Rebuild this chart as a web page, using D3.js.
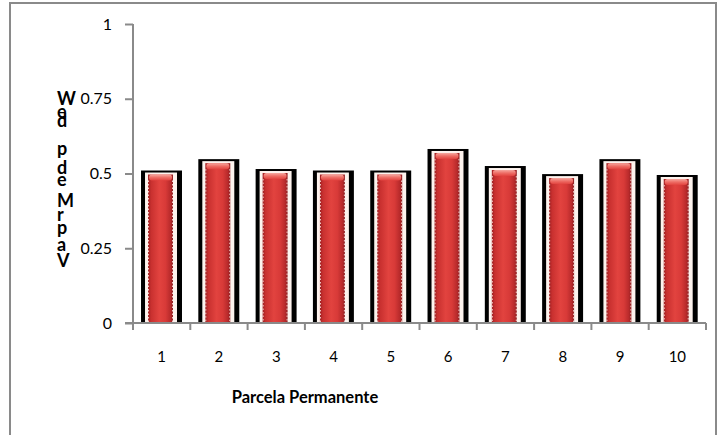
<!DOCTYPE html>
<html><head><meta charset="utf-8">
<script src="https://cdn.jsdelivr.net/npm/d3@7"></script>
<style>
html,body{margin:0;padding:0;background:#fff;}
svg{display:block;}
text{font-family:Lato,"Liberation Sans",sans-serif;fill:#000;}
</style></head>
<body>
<svg id="c" width="718" height="435"></svg>
<script>
// ---- data ----
const categories = ["1","2","3","4","5","6","7","8","9","10"];
const values = [0.51, 0.548, 0.515, 0.51, 0.51, 0.582, 0.525, 0.498, 0.548, 0.495];
const yTicks = [0, 0.25, 0.5, 0.75, 1];
const yTickLabels = ["0", "0.25", "0.5", "0.75", "1"];
const xTitle = "Parcela Permanente";
const yTitleLetters = ["W","e","d","p","d","e","M","r","p","a","V"];

// ---- layout ----
const yTitleBaselines = [105, 118, 127, 155, 174, 186, 207, 221, 234, 251, 267];
const svg = d3.select("#c");
const pLeft = 133, pRight = 706, pTop = 24, pBottom = 323;
const axisColor = "#8a8a8a";

// chart border
svg.append("path")
  .attr("d", "M10,440 L10,3 L716,3 L716,440")
  .attr("fill", "none").attr("stroke", axisColor).attr("stroke-width", 2);

const y = d3.scaleLinear().domain([0, 1]).range([pBottom, pTop]);
const x = d3.scaleBand().domain(categories).range([pLeft, pRight]).padding(0);
const bw = x.bandwidth();

// gradients
const defs = svg.append("defs");
const g1 = defs.append("linearGradient").attr("id", "red").attr("x1", "0").attr("x2", "1").attr("y1", "0").attr("y2", "0");
[["0", "#9e1f22"], ["0.12", "#c8302f"], ["0.45", "#e2433f"], ["0.7", "#d83a38"], ["0.9", "#b82a2b"], ["1", "#8f1d20"]]
  .forEach(([o, c]) => g1.append("stop").attr("offset", o).attr("stop-color", c));
const g2 = defs.append("linearGradient").attr("id", "cap").attr("x1", "0").attr("x2", "0").attr("y1", "0").attr("y2", "1");
[["0", "#f6a8a0"], ["0.5", "#ee6e66"], ["1", "#e2433f"]]
  .forEach(([o, c]) => g2.append("stop").attr("offset", o).attr("stop-color", c));

// bars
const bars = svg.append("g").selectAll("g").data(values).join("g");
const bx = (d, i) => x(categories[i]) + bw * 0.14;
const bW = bw * 0.715;
bars.append("rect").attr("x", bx).attr("y", d => y(d)).attr("width", bW)
  .attr("height", d => pBottom - y(d)).attr("fill", "#000");
bars.append("rect").attr("x", (d, i) => bx(d, i) + 4).attr("y", d => y(d) + 2).attr("width", bW - 9)
  .attr("height", d => pBottom - y(d) - 2).attr("fill", "#fdf3ee");
bars.append("rect").attr("x", (d, i) => bx(d, i) + 7).attr("y", d => y(d) + 4).attr("width", bW - 16)
  .attr("height", d => pBottom - y(d) - 4).attr("fill", "url(#red)");
bars.append("rect").attr("x", (d, i) => bx(d, i) + 8).attr("y", d => y(d) + 4).attr("width", bW - 18)
  .attr("height", 6).attr("rx", 3).attr("fill", "url(#cap)");
bars.append("line").attr("x1", (d, i) => bx(d, i) + 7.5).attr("x2", (d, i) => bx(d, i) + 7.5)
  .attr("y1", d => y(d) + 10).attr("y2", pBottom)
  .attr("stroke", "#f4d0cc").attr("stroke-width", 1).attr("stroke-dasharray", "1.5,2");
bars.append("line").attr("x1", (d, i) => bx(d, i) + bW - 9.5).attr("x2", (d, i) => bx(d, i) + bW - 9.5)
  .attr("y1", d => y(d) + 10).attr("y2", pBottom)
  .attr("stroke", "#f4d0cc").attr("stroke-width", 1).attr("stroke-dasharray", "1.5,2");

// y axis
const yAxis = svg.append("g").attr("transform", `translate(${pLeft},0)`)
  .call(d3.axisLeft(y).tickValues(yTicks).tickFormat((d, i) => yTickLabels[i]).tickSize(8).tickPadding(13));
yAxis.select(".domain").attr("stroke", axisColor).attr("stroke-width", 2).attr("d", `M0,${pTop}V${pBottom}`);
yAxis.selectAll(".tick line").attr("stroke", axisColor).attr("stroke-width", 2);
yAxis.selectAll(".tick text").attr("font-size", 16).attr("font-family", "Lato").attr("fill", "#000");

// x axis (ticks at category boundaries)
const xAxis = svg.append("g").attr("transform", `translate(0,${pBottom})`);
xAxis.append("line").attr("x1", pLeft - 8).attr("x2", pRight).attr("y1", 0).attr("y2", 0)
  .attr("stroke", axisColor).attr("stroke-width", 2);
const bounds = categories.map(c => x(c)).concat([pRight]);
xAxis.selectAll("line.t").data(bounds).join("line").attr("class", "t")
  .attr("x1", d => d).attr("x2", d => d).attr("y1", 0).attr("y2", 7)
  .attr("stroke", axisColor).attr("stroke-width", 2);
xAxis.selectAll("text").data(categories).join("text")
  .attr("x", d => x(d) + bw / 2).attr("y", 39).attr("text-anchor", "middle")
  .attr("font-size", 15).text(d => d);

// titles
svg.append("text").attr("x", 305).attr("y", 403).attr("text-anchor", "middle")
  .attr("font-size", 16.5).attr("font-weight", "bold").text(xTitle);
svg.append("g").selectAll("text").data(yTitleLetters).join("text")
  .attr("x", 57).attr("y", (d, i) => yTitleBaselines[i])
  .attr("font-size", 18).attr("font-weight", "bold").text(d => d);
</script>
</body></html>
